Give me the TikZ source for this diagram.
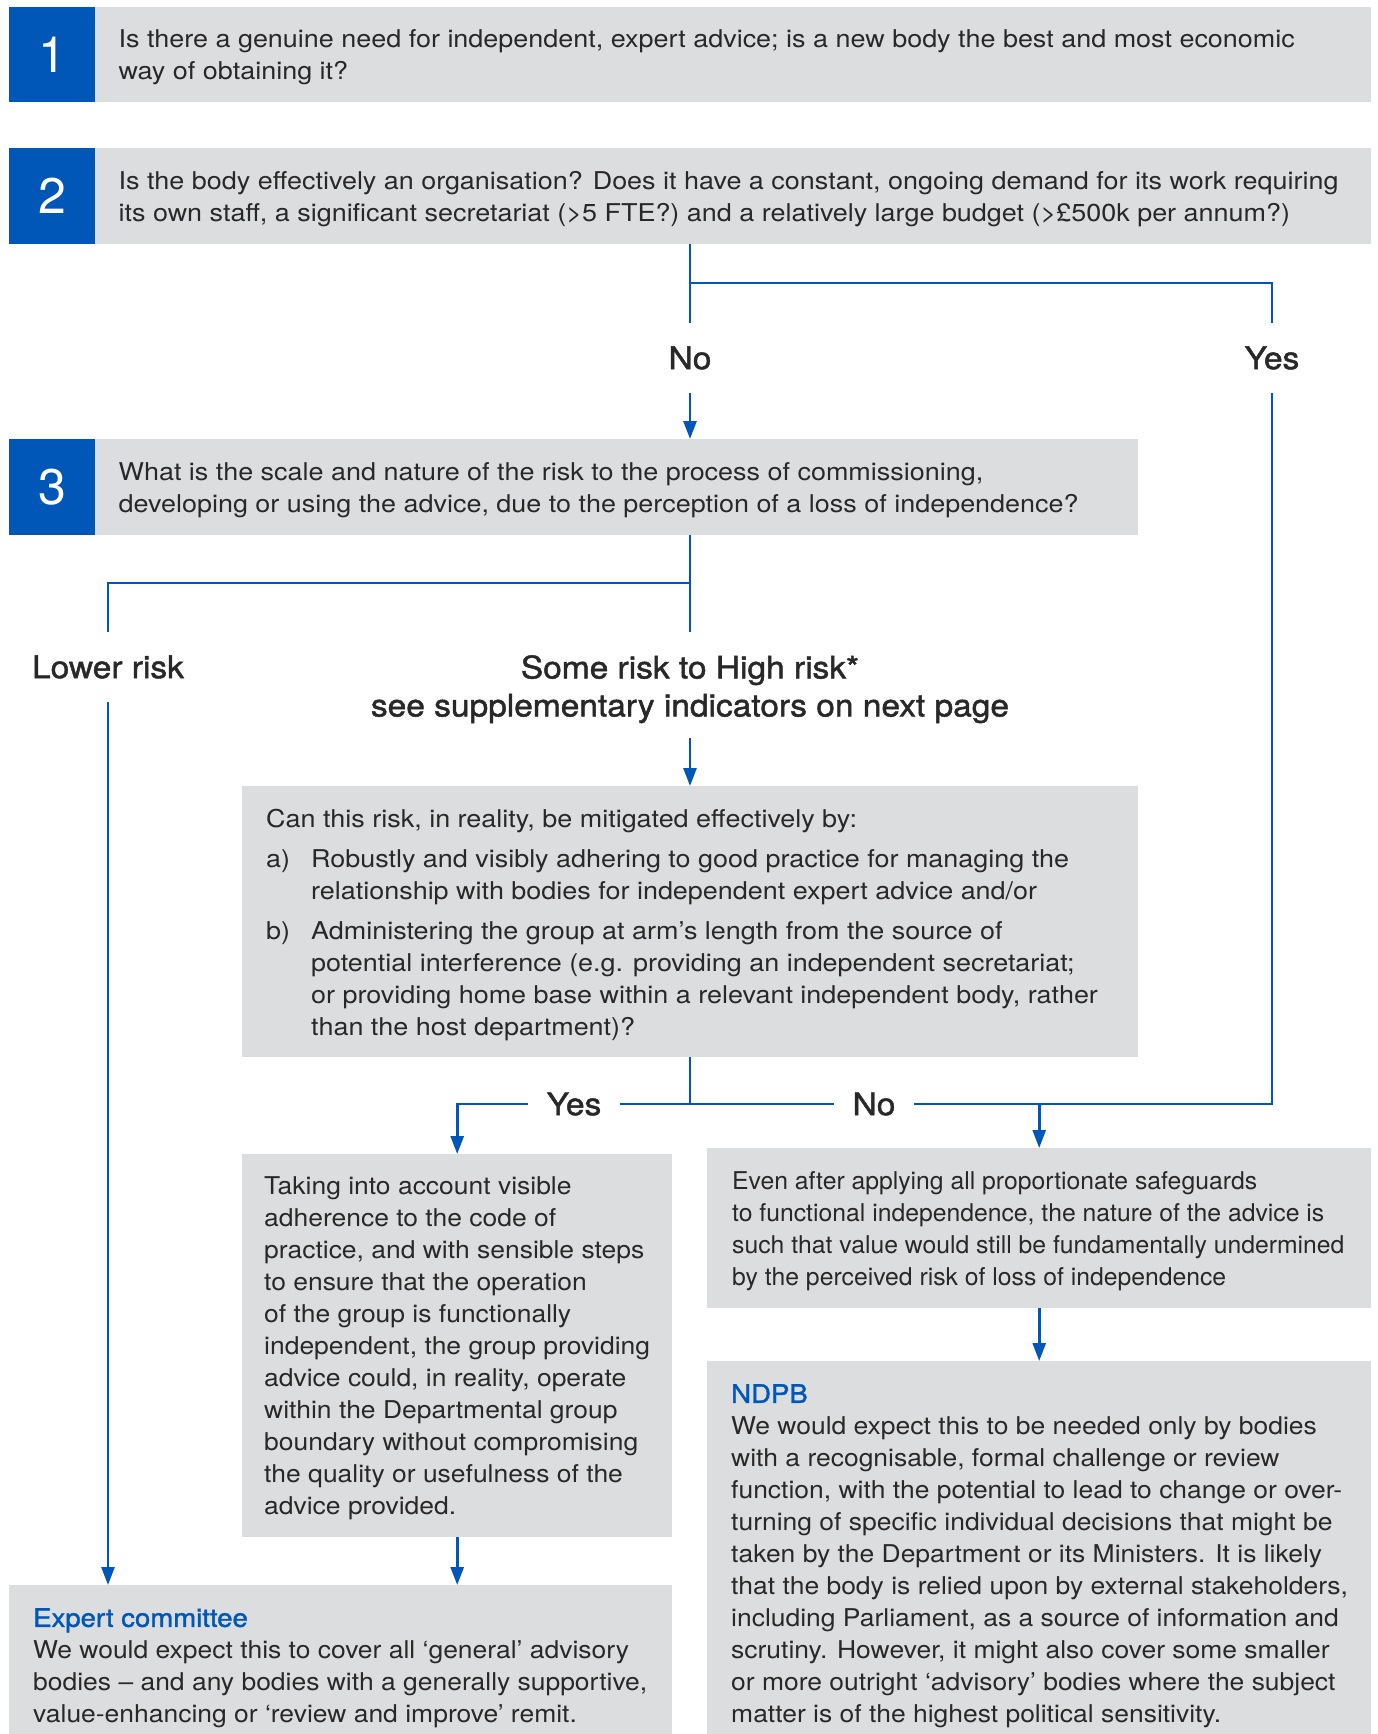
\documentclass[tikz,border=0pt]{standalone}
\usepackage{fontspec}
\setmainfont{TeX Gyre Heros}[FakeStretch=1.08]
\newfontfamily\plainfont{TeX Gyre Heros}[FakeStretch=1.01]
\newfontfamily\widefont{TeX Gyre Heros}[FakeStretch=1.1]
\newfontfamily\numfont{TeX Gyre Heros}
\newfontfamily\medfont{TeX Gyre Heros}[FakeStretch=1.08,FakeBold=1.5]
\usetikzlibrary{arrows.meta}
\definecolor{boxgray}{HTML}{DCDDDF}
\definecolor{navy}{HTML}{0057B8}
\definecolor{ink}{HTML}{282828}
\tikzset{
  gbox/.style={fill=boxgray, draw=none, inner sep=0pt, anchor=north west},
  numbox/.style={fill=navy, text=white, inner sep=0pt, anchor=north west, minimum width=86pt, font=\numfont\fontsize{50}{50}\selectfont},
  body/.style={text=ink, inner sep=0pt, align=left, font=\fontsize{24.5}{32}\selectfont},
  widebody/.style={body, font=\widefont\fontsize{24.5}{32}\selectfont},
  lbl/.style={text=ink, inner xsep=18pt, inner ysep=0pt, minimum height=70pt, font=\medfont\fontsize{31}{38}\selectfont},
  conn/.style={draw=navy, line width=2.7pt},
  arr/.style={conn, -{Triangle[length=18pt,width=13pt]}}
}
\begin{document}
\begin{tikzpicture}[x=1pt,y=-1pt]
\useasboundingbox (0,0) rectangle (1378,1734);
% boxes
\node[gbox, minimum width=1362pt, minimum height=95pt] (b1) at (9,7) {};
\node[numbox, minimum height=95pt] (n1) at (9,7) {1};
\node[gbox, minimum width=1362pt, minimum height=96pt] (b2) at (9,148) {};
\node[numbox, minimum height=96pt] (n2) at (9,148) {2};
\node[gbox, minimum width=1129pt, minimum height=96pt] (b3) at (9,439) {};
\node[numbox, minimum height=96pt] (n3) at (9,439) {3};
\node[gbox, minimum width=896pt, minimum height=271pt] (b4) at (242,786) {};
\node[gbox, minimum width=430pt, minimum height=383pt] (b5) at (242,1154) {};
\node[gbox, minimum width=664pt, minimum height=160pt] (b6) at (707,1148) {};
\node[gbox, minimum width=664pt, minimum height=373pt] (bndpb) at (707,1361) {};
\node[gbox, minimum width=663pt, minimum height=149pt] (bexp) at (9,1585) {};
% texts
\node[widebody, anchor=west] (t1) at ([xshift=23pt,yshift=-3pt]n1.east) {Is there a genuine need for independent, expert advice; is a new body the best and most economic\\way of obtaining it?};
\node[widebody, anchor=west] (t2) at ([xshift=23pt,yshift=-3pt]n2.east) {Is the body effectively an organisation? Does it have a constant, ongoing demand for its work requiring\\its own staff, a significant secretariat (>5 FTE?) and a relatively large budget (>£500k per annum?)};
\node[widebody, anchor=west] (t3) at ([xshift=23pt,yshift=-3pt]n3.east) {What is the scale and nature of the risk to the process of commissioning,\\developing or using the advice, due to the perception of a loss of independence?};
\node[widebody, anchor=west] (t4) at ([xshift=24pt,yshift=-3pt]b4.west) {Can this risk, in reality, be mitigated effectively by:\\[8pt]
\makebox[45pt][l]{a)}Robustly and visibly adhering to good practice for managing the\\
\hspace*{45pt}relationship with bodies for independent expert advice and/or\\[8pt]
\makebox[45pt][l]{b)}Administering the group at arm’s length from the source of\\
\hspace*{45pt}potential interference (e.g. providing an independent secretariat;\\
\hspace*{45pt}or providing home base within a relevant independent body, rather\\
\hspace*{45pt}than the host department)?};
\node[body, anchor=west] (t5) at ([xshift=22pt,yshift=-3pt]b5.west) {Taking into account visible\\adherence to the code of\\practice, and with sensible steps\\to ensure that the operation\\of the group is functionally\\independent, the group providing\\advice could, in reality, operate\\within the Departmental group\\boundary without compromising\\the quality or usefulness of the\\advice provided.};
\node[body, anchor=west, font=\plainfont\fontsize{24.5}{32}\selectfont] (t6) at ([xshift=25pt,yshift=-3pt]b6.west) {Even after applying all proportionate safeguards\\to functional independence, the nature of the advice is\\such that value would still be fundamentally undermined\\by the perceived risk of loss of independence};
\node[body, anchor=north west] (tndpb) at ([xshift=24pt,yshift=-23pt]bndpb.north west) {\textcolor{navy}{\medfont\fontsize{25.5}{32}\selectfont NDPB}\\We would expect this to be needed only by bodies\\with a recognisable, formal challenge or review\\function, with the potential to lead to change or over-\\turning of specific individual decisions that might be\\taken by the Department or its Ministers. It is likely\\that the body is relied upon by external stakeholders,\\including Parliament, as a source of information and\\scrutiny. However, it might also cover some smaller\\or more outright ‘advisory’ bodies where the subject\\matter is of the highest political sensitivity.};
\node[body, anchor=north west] (texp) at ([xshift=24pt,yshift=-23pt]bexp.north west) {\textcolor{navy}{\medfont\fontsize{25.5}{32}\selectfont Expert committee}\\We would expect this to cover all ‘general’ advisory\\bodies – and any bodies with a generally supportive,\\value-enhancing or ‘review and improve’ remit.};
% labels
\node[lbl] (lno) at (690,358) {No};
\node[lbl] (lyes) at (1272,358) {Yes};
\node[lbl] (llow) at (108,667) {Lower risk};
\node[lbl, align=center, anchor=north, minimum height=114pt] (lsome) at (690,632) {Some risk to High risk*\\see supplementary indicators on next page};
\node[lbl] (lyes2) at (574,1104) {Yes};
\node[lbl] (lno2) at (874,1104) {No};
% connectors
\coordinate (s2) at (690,283);
\coordinate (s3) at (690,583);
\coordinate (s4) at (690,1104);
\draw[conn] (b2.south -| lno) -- (lno.north);
\draw[conn] (s2) -| (lyes.north);
\draw[arr] (lno.south) -- (lno.south |- b3.north);
\draw[conn] (lyes.south) |- (lno2.east);
\draw[conn] (b3.south -| lsome) -- (lsome.north);
\draw[conn] (s3) -| (llow.north);
\draw[arr] (llow.south) -- (llow.south |- bexp.north);
\draw[arr] ([yshift=8pt]lsome.south) -- (lsome.south |- b4.north);
\draw[conn] (b4.south -| s4) -- (s4);
\draw[conn] (lyes2.east) -- (lno2.west);
\draw[arr] (lyes2.west) -| (b5.north);
\draw[arr] (b6.north |- lno2.east) -- (b6.north);
\draw[arr] (b6.south) -- (bndpb.north);
\draw[arr] (b5.south) -- (b5.south |- bexp.north);
\end{tikzpicture}
\end{document}
